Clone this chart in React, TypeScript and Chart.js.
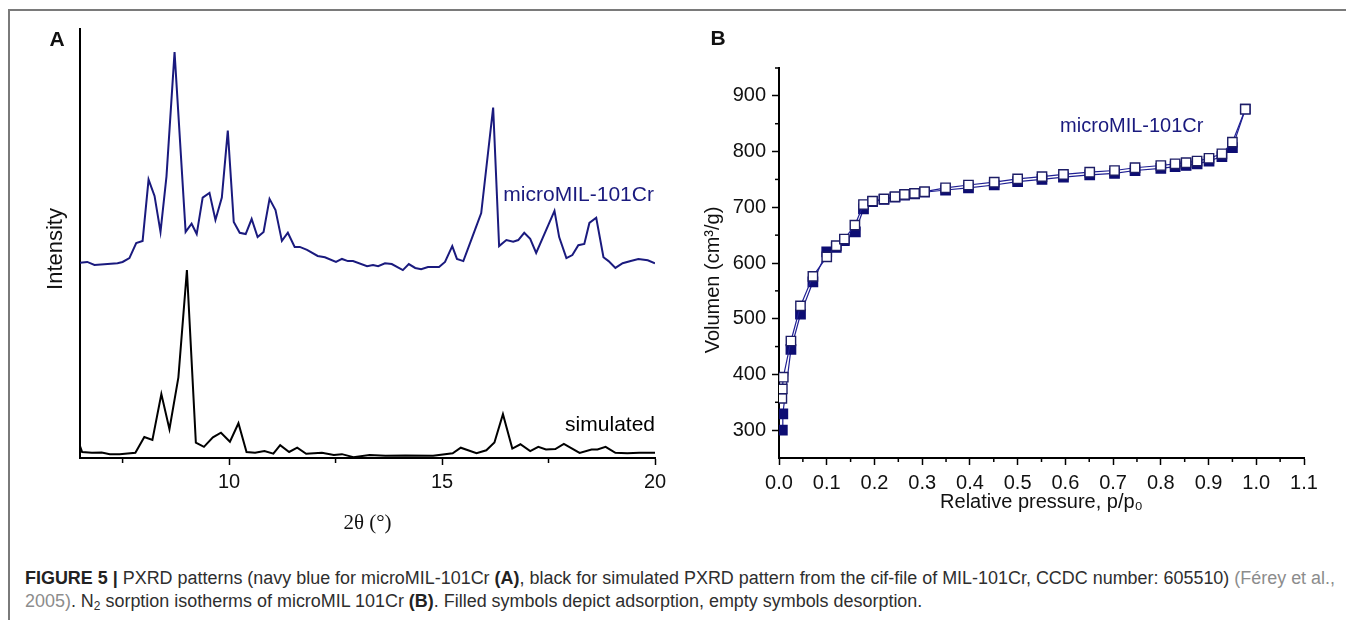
import React, { useEffect, useLayoutEffect, useRef } from 'react';
import { Chart, registerables } from 'chart.js';

Chart.register(...registerables);

const SANS = '"Liberation Sans", Arial, Helvetica, sans-serif';
const SERIF = '"Liberation Serif", "Times New Roman", serif';
const NAVY = '#1a1a7e';
const NAVY_FILL = '#0d0d73';
const NAVY_LINE = '#1f1f93';

// ---------- Panel A: PXRD ----------
const blueTheta = [
  6.5, 6.67, 6.84, 7.38, 7.5, 7.66, 7.82, 7.97, 8.11, 8.25, 8.39, 8.53, 8.72, 8.98, 9.12, 9.24,
  9.38, 9.54, 9.68, 9.83, 9.97, 10.11, 10.25, 10.39, 10.53, 10.67, 10.81, 10.95, 11.09, 11.24,
  11.38, 11.54, 11.66, 11.83, 12.08, 12.25, 12.51, 12.65, 12.79, 12.91, 13.24, 13.38, 13.5,
  13.66, 13.82, 14.08, 14.22, 14.37, 14.51, 14.67, 14.84, 14.93, 15.07, 15.24, 15.35, 15.5,
  15.71, 15.92, 16.2, 16.34, 16.51, 16.67, 16.79, 16.93, 17.07, 17.21, 17.64, 17.75, 17.92,
  18.06, 18.2, 18.34, 18.46, 18.62, 18.79, 18.91, 19.07, 19.24, 19.43, 19.61, 19.83, 20.0,
];
const blueIntensity = [
  45.5, 45.7, 45.0, 45.4, 45.7, 46.6, 50.1, 50.6, 64.9, 61.1, 52.7, 65.6, 94.6, 52.7, 54.6, 52.2,
  60.7, 61.8, 55.5, 60.7, 76.3, 55.0, 52.5, 52.2, 55.7, 51.5, 52.7, 60.4, 57.8, 50.6,
  52.5, 49.2, 49.2, 48.5, 47.1, 46.8, 45.7, 46.4, 45.9, 45.9, 44.7, 45.0, 44.7,
  45.4, 45.2, 43.8, 45.2, 44.3, 44.0, 44.5, 44.5, 44.5, 45.7, 49.4, 46.4, 45.9,
  51.5, 57.1, 81.7, 49.4, 50.8, 50.4, 50.8, 52.5, 51.1, 47.8, 57.6, 51.5, 46.6,
  47.3, 49.6, 49.9, 54.8, 56.0, 46.8, 45.9, 44.3, 45.4, 45.9, 46.4, 46.1, 45.4,
];
const simTheta = [
  6.5, 6.55, 6.78, 7.01, 7.2, 7.43, 7.8, 8.01, 8.2, 8.41, 8.6, 8.81, 9.01, 9.22, 9.41, 9.62,
  9.81, 10.02, 10.22, 10.41, 10.61, 10.83, 11.04, 11.2, 11.41, 11.6, 11.81, 12.18, 12.46,
  12.65, 12.92, 13.3, 13.67, 14.14, 14.79, 15.25, 15.44, 15.81, 16.04, 16.23, 16.43, 16.65,
  16.84, 17.07, 17.26, 17.44, 17.66, 17.86, 18.23, 18.51, 18.65, 18.84, 19.07, 19.35, 19.63, 20.0,
];
const simIntensity = [
  2.8, 1.4, 1.2, 1.3, 0.9, 0.9, 1.2, 4.9, 4.2, 14.9, 6.7, 18.8, 43.8, 3.6, 2.6, 4.8,
  5.9, 3.8, 8.1, 1.4, 1.2, 1.6, 1.0, 3.0, 1.4, 2.4, 1.0, 1.2, 0.7,
  0.9, 0.2, 0.7, 0.5, 0.6, 0.5, 1.1, 2.4, 1.1, 1.8, 3.6, 10.2, 2.2,
  3.2, 1.6, 2.6, 2.0, 2.1, 3.3, 1.2, 2.0, 2.0, 2.6, 1.2, 1.1, 1.2, 1.2,
];
const xTicksA = [10, 15, 20];
const xTickLabelsA = ['10', '15', '20'];
const xMinorA = [7.5, 12.5, 17.5];

// ---------- Panel B: N2 isotherms ----------
const adsP = [
  0.007, 0.008, 0.025, 0.045, 0.071, 0.1, 0.12, 0.137, 0.16, 0.177, 0.196, 0.22, 0.243, 0.263,
  0.284, 0.305, 0.349, 0.397, 0.451, 0.5, 0.551, 0.596, 0.651, 0.703, 0.746, 0.8, 0.83, 0.853,
  0.876, 0.901, 0.928, 0.95, 0.977,
];
const adsV = [
  300, 329, 445, 508, 566, 620, 628, 640, 656, 697, 710, 714, 718, 722,
  724, 727, 731, 735, 740, 746, 750, 754, 758, 761, 766, 770, 773, 775,
  778, 783, 791, 807, 876,
];
const desP = [
  0.006, 0.007, 0.009, 0.025, 0.045, 0.071, 0.1, 0.12, 0.137, 0.159, 0.177, 0.196, 0.22, 0.243,
  0.263, 0.284, 0.305, 0.349, 0.397, 0.451, 0.5, 0.551, 0.596, 0.651, 0.703, 0.746, 0.8, 0.83,
  0.853, 0.876, 0.901, 0.928, 0.95, 0.977,
];
const desV = [
  357, 374, 395, 460, 523, 576, 611, 631, 643, 668, 705, 711, 715, 719,
  723, 725, 728, 735, 740, 745, 751, 755, 759, 763, 766, 771, 775, 778,
  780, 783, 788, 796, 817, 876,
];
const xTicksB = [0, 0.1, 0.2, 0.3, 0.4, 0.5, 0.6, 0.7, 0.8, 0.9, 1.0, 1.1];
const xTickLabelsB = ['0.0', '0.1', '0.2', '0.3', '0.4', '0.5', '0.6', '0.7', '0.8', '0.9', '1.0', '1.1'];
const xMinorB = [0.05, 0.15, 0.25, 0.35, 0.45, 0.55, 0.65, 0.75, 0.85, 0.95, 1.05];
const yTicksB = [300, 400, 500, 600, 700, 800, 900];
const yTickLabelsB = ['300', '400', '500', '600', '700', '800', '900'];
const yMinorB = [350, 450, 550, 650, 750, 850, 950];

type TextItem = {
  text: string;
  font: string;
  color: string;
  align: CanvasTextAlign;
  rotate?: boolean;
  data?: [number, number];
  area?: [number, number];
};

function makeTextPlugin(items: TextItem[]) {
  return {
    id: 'textItems',
    afterDraw(chart: any) {
      const { ctx, chartArea, scales } = chart;
      items.forEach((it) => {
        let x = 0;
        let y = 0;
        if (it.data) {
          x = scales.x.getPixelForValue(it.data[0]);
          y = scales.y.getPixelForValue(it.data[1]);
        } else if (it.area) {
          x = chartArea.left + it.area[0];
          y = (chartArea.top + chartArea.bottom) / 2 + it.area[1];
        }
        ctx.save();
        ctx.translate(x, y);
        if (it.rotate) ctx.rotate(-Math.PI / 2);
        ctx.font = it.font;
        ctx.fillStyle = it.color;
        ctx.textAlign = it.align;
        ctx.textBaseline = 'middle';
        ctx.fillText(it.text, 0, 0);
        ctx.restore();
      });
    },
  };
}

function makeMinorTicks(xs: number[], ys: number[], len: number) {
  return {
    id: 'minorTicks',
    afterDraw(chart: any) {
      const { ctx, chartArea, scales } = chart;
      ctx.save();
      ctx.strokeStyle = '#000';
      ctx.lineWidth = 1.5;
      xs.forEach((v) => {
        const px = scales.x.getPixelForValue(v);
        ctx.beginPath();
        ctx.moveTo(px, chartArea.bottom);
        ctx.lineTo(px, chartArea.bottom + len);
        ctx.stroke();
      });
      ys.forEach((v) => {
        const py = scales.y.getPixelForValue(v);
        ctx.beginPath();
        ctx.moveTo(chartArea.left, py);
        ctx.lineTo(chartArea.left - len, py);
        ctx.stroke();
      });
      ctx.restore();
    },
  };
}

function configA(): any {
  return {
    type: 'line',
    data: {
      datasets: [
        {
          label: 'microMIL-101Cr',
          data: blueTheta.map((t, i) => ({ x: t, y: blueIntensity[i] })),
          borderColor: NAVY,
          borderWidth: 2,
          pointRadius: 0,
          tension: 0,
          fill: false,
        },
        {
          label: 'simulated',
          data: simTheta.map((t, i) => ({ x: t, y: simIntensity[i] })),
          borderColor: '#000',
          borderWidth: 2,
          pointRadius: 0,
          tension: 0,
          fill: false,
        },
      ],
    },
    options: {
      responsive: false,
      animation: false,
      events: [],
      layout: { padding: { top: 29, right: 35, left: 0, bottom: 0 } },
      plugins: { legend: { display: false }, tooltip: { enabled: false } },
      scales: {
        x: {
          type: 'linear',
          min: 6.5,
          max: 20,
          afterBuildTicks: (s: any) => {
            s.ticks = xTicksA.map((v) => ({ value: v }));
          },
          afterFit: (s: any) => {
            s.height = 82;
          },
          ticks: {
            callback: (_v: any, i: number) => xTickLabelsA[i],
            font: { family: SANS, size: 20 },
            color: '#111',
            padding: 5,
            autoSkip: false,
            maxRotation: 0,
          },
          grid: { drawOnChartArea: false, drawTicks: true, tickLength: 7, tickColor: '#000', tickWidth: 1.5 },
          border: { display: true, color: '#000', width: 2 },
          title: {
            display: true,
            text: '2θ (°)',
            font: { family: SERIF, size: 21 },
            color: '#111',
            padding: { top: 0, bottom: 4 },
          },
        },
        y: {
          type: 'linear',
          min: 0,
          max: 100,
          afterFit: (s: any) => {
            s.width = 80;
          },
          ticks: { display: false },
          grid: { drawOnChartArea: false, drawTicks: false },
          border: { display: true, color: '#000', width: 2 },
        },
      },
    },
    plugins: [
      makeMinorTicks(xMinorA, [], 5),
      makeTextPlugin([
        { text: 'microMIL-101Cr', font: `21px ${SANS}`, color: NAVY, align: 'left', data: [16.44, 61.3] },
        { text: 'simulated', font: `21px ${SANS}`, color: '#000', align: 'right', data: [20, 7.7] },
        { text: 'Intensity', font: `22px ${SANS}`, color: '#111', align: 'center', rotate: true, area: [-24.5, 5.5] },
      ]),
    ],
  };
}

function configB(): any {
  return {
    type: 'line',
    data: {
      datasets: [
        {
          label: 'desorption',
          data: desP.map((p, i) => ({ x: p, y: desV[i] })),
          borderColor: NAVY_LINE,
          borderWidth: 1.2,
          tension: 0,
          fill: false,
          pointStyle: 'rect',
          pointRadius: 6.6,
          pointBackgroundColor: '#ffffff',
          pointBorderColor: '#1d1d66',
          pointBorderWidth: 1.4,
        },
        {
          label: 'adsorption',
          data: adsP.map((p, i) => ({ x: p, y: adsV[i] })),
          borderColor: NAVY_LINE,
          borderWidth: 1.2,
          tension: 0,
          fill: false,
          pointStyle: 'rect',
          pointRadius: 6.6,
          pointBackgroundColor: NAVY_FILL,
          pointBorderColor: NAVY_FILL,
          pointBorderWidth: 1.4,
        },
      ],
    },
    options: {
      responsive: false,
      animation: false,
      events: [],
      layout: { padding: { top: 68, right: 42, left: 0, bottom: 0 } },
      plugins: { legend: { display: false }, tooltip: { enabled: false } },
      scales: {
        x: {
          type: 'linear',
          min: 0,
          max: 1.1,
          afterBuildTicks: (s: any) => {
            s.ticks = xTicksB.map((v) => ({ value: v }));
          },
          afterFit: (s: any) => {
            s.height = 82;
          },
          ticks: {
            callback: (_v: any, i: number) => xTickLabelsB[i],
            font: { family: SANS, size: 20 },
            color: '#111',
            padding: 6,
            autoSkip: false,
            maxRotation: 0,
          },
          grid: { drawOnChartArea: false, drawTicks: true, tickLength: 7, tickColor: '#000', tickWidth: 1.5 },
          border: { display: true, color: '#000', width: 2 },
          title: {
            display: true,
            text: 'Relative pressure, p/p₀',
            font: { family: SANS, size: 20 },
            color: '#111',
            padding: { top: 0, bottom: 26 },
          },
        },
        y: {
          type: 'linear',
          min: 250,
          max: 950,
          afterBuildTicks: (s: any) => {
            s.ticks = yTicksB.map((v) => ({ value: v }));
          },
          afterFit: (s: any) => {
            s.width = 99;
          },
          ticks: {
            callback: (_v: any, i: number) => yTickLabelsB[i],
            font: { family: SANS, size: 20 },
            color: '#111',
            padding: 6,
            autoSkip: false,
          },
          grid: { drawOnChartArea: false, drawTicks: true, tickLength: 7, tickColor: '#000', tickWidth: 1.5 },
          border: { display: true, color: '#000', width: 2 },
        },
      },
    },
    plugins: [
      makeMinorTicks(xMinorB, yMinorB, 4),
      makeTextPlugin([
        { text: 'microMIL-101Cr', font: `20px ${SANS}`, color: NAVY, align: 'left', data: [0.589, 845] },
        { text: 'Volumen (cm³/g)', font: `20px ${SANS}`, color: '#111', align: 'center', rotate: true, area: [-66, 17] },
      ]),
    ],
  };
}

function ChartCanvas(props: { make: () => any; left: number; top: number; width: number; height: number }) {
  const ref = useRef<HTMLCanvasElement>(null);
  useEffect(() => {
    const chart = new Chart(ref.current as HTMLCanvasElement, props.make());
    return () => chart.destroy();
  }, []);
  return (
    <canvas
      ref={ref}
      width={props.width}
      height={props.height}
      style={{ position: 'absolute', left: props.left, top: props.top, width: props.width, height: props.height }}
    />
  );
}

const CAPTION_WIDTH = 1310;

function Caption() {
  const box = useRef<HTMLDivElement>(null);
  const line1 = useRef<HTMLSpanElement>(null);
  useLayoutEffect(() => {
    if (!box.current || !line1.current) return;
    const w = line1.current.getBoundingClientRect().width;
    if (w > 0) box.current.style.transform = `scaleX(${CAPTION_WIDTH / w})`;
  }, []);
  const gray = { color: '#8c8c8c' };
  const bold = { fontWeight: 700, color: '#222' };
  const sub = { fontSize: 12, verticalAlign: '-3px', lineHeight: 0 } as React.CSSProperties;
  return (
    <div
      ref={box}
      style={{
        position: 'absolute',
        left: 25,
        top: 567,
        fontFamily: SANS,
        fontSize: 18,
        lineHeight: '23px',
        color: '#2e2e2e',
        whiteSpace: 'nowrap',
        transformOrigin: '0 0',
      }}
    >
      <span ref={line1} style={{ display: 'inline-block' }}>
        <span style={bold}>FIGURE 5 |</span> PXRD patterns (navy blue for microMIL-101Cr <span style={bold}>(A)</span>, black
        for simulated PXRD pattern from the cif-file of MIL-101Cr, CCDC number: 605510){' '}
        <span style={gray}>(Férey et al.,</span>
      </span>
      <br />
      <span style={{ display: 'inline-block' }}>
        <span style={gray}>2005)</span>. N<span style={sub}>2</span> sorption isotherms of microMIL 101Cr{' '}
        <span style={bold}>(B)</span>. Filled symbols depict adsorption, empty symbols desorption.
      </span>
    </div>
  );
}

export default function App() {
  const panelLabel = (text: string, cx: number, cy: number) => (
    <div
      style={{
        position: 'absolute',
        left: cx - 15,
        top: cy - 10.3,
        width: 30,
        textAlign: 'center',
        fontFamily: SANS,
        fontWeight: 700,
        fontSize: 21,
        lineHeight: '21px',
        color: '#111',
      }}
    >
      {text}
    </div>
  );
  return (
    <div
      style={{
        position: 'absolute',
        left: 0,
        top: 0,
        width: 1346,
        height: 620,
        overflow: 'hidden',
        background: '#ffffff',
      }}
    >
      <div
        style={{
          position: 'absolute',
          left: 8,
          top: 9,
          width: 1346,
          height: 700,
          borderTop: '2px solid #7a7a7a',
          borderLeft: '2px solid #7a7a7a',
        }}
      />
      <ChartCanvas make={configA} left={0} top={0} width={690} height={540} />
      <ChartCanvas make={configB} left={680} top={0} width={666} height={540} />
      {panelLabel('A', 57, 38)}
      {panelLabel('B', 718, 37.5)}
      <Caption />
    </div>
  );
}
